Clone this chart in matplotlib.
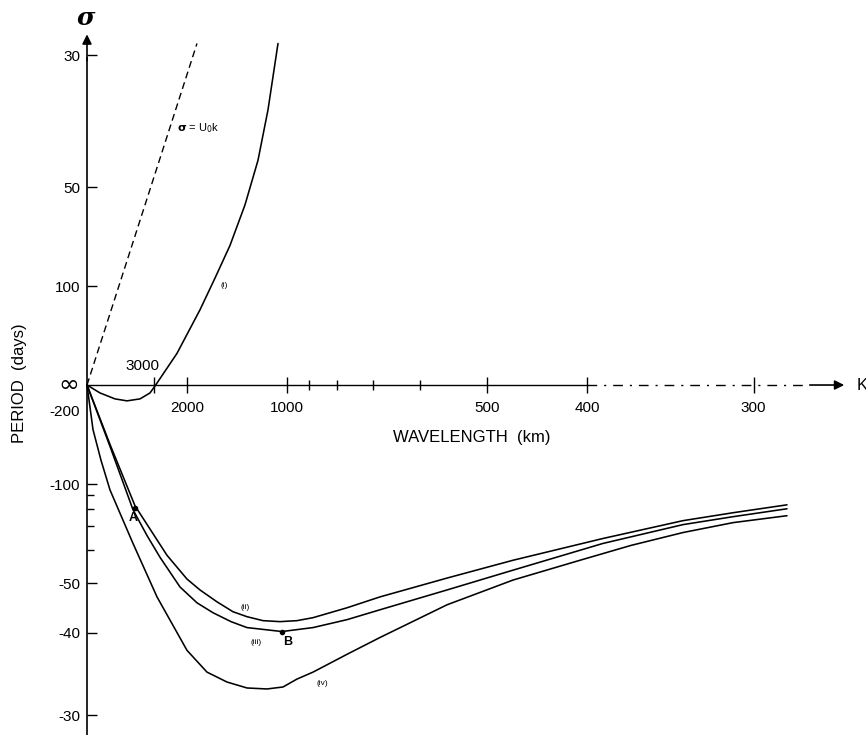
import matplotlib.pyplot as plt
from matplotlib.ticker import FixedLocator, FixedFormatter

plt.rcParams['font.family'] = ['Liberation Sans', 'DejaVu Sans']

# wavenumber k in units of 1/(1000 km), frequency sigma in units of 1/(100 days)
k_dash = [0.0, 0.55]
s_dash = [0.0, 3.45]

k_c1 = [0.0, 0.065, 0.14, 0.20, 0.265, 0.315, 0.34, 0.45, 0.565, 0.64, 0.715, 0.79, 0.855, 0.905, 0.955]
s_c1 = [0.0, -0.08, -0.14, -0.16, -0.14, -0.08, -0.01, 0.32, 0.76, 1.08, 1.41, 1.82, 2.27, 2.78, 3.45]

k_c2 = [0.0, 0.115, 0.24, 0.40, 0.50, 0.565, 0.65, 0.73, 0.80, 0.88, 0.965, 1.05, 1.13, 1.30,
        1.465, 1.80, 2.13, 2.58, 2.98, 3.23, 3.50]
s_c2 = [0.0, -0.60, -1.22, -1.72, -1.96, -2.07, -2.19, -2.29, -2.34, -2.38, -2.39, -2.38, -2.35, -2.25,
        -2.14, -1.95, -1.77, -1.55, -1.37, -1.29, -1.21]

k_c3 = [0.0, 0.115, 0.23, 0.30, 0.365, 0.465, 0.55, 0.63, 0.72, 0.80, 0.975, 1.13, 1.30,
        1.465, 1.80, 2.13, 2.58, 2.98, 3.23, 3.50]
s_c3 = [0.0, -0.62, -1.26, -1.52, -1.74, -2.04, -2.20, -2.30, -2.39, -2.45, -2.49, -2.45, -2.37,
        -2.27, -2.07, -1.87, -1.60, -1.41, -1.33, -1.25]

k_c4 = [0.0, 0.03, 0.07, 0.115, 0.23, 0.35, 0.50, 0.60, 0.70, 0.80, 0.90, 0.98, 1.05, 1.13, 1.30,
        1.465, 1.80, 2.13, 2.465, 2.72, 2.98, 3.23, 3.50]
s_c4 = [0.0, -0.45, -0.76, -1.06, -1.60, -2.14, -2.68, -2.90, -3.00, -3.06, -3.07, -3.05, -2.97, -2.90, -2.72,
        -2.55, -2.22, -1.97, -1.77, -1.62, -1.49, -1.39, -1.32]

# axis ticks: wavelength (km) and period (days)
wave_major = [3000, 2000, 1000, 500, 400, 300]
wave_labels = ['', '2000', '1000', '500', '400', '300']
wave_minor = [900, 800, 700, 600]
period_major = [30, 50, 100, -100, -50, -40, -30]
period_minor = [-90, -80, -70, -60]

point_A = (0.24, -1.24)
point_B = (0.975, -2.49)

fig = plt.figure(figsize=(8.66, 7.35), dpi=100)
ax = fig.add_axes([0, 0, 1, 1])
ax.set_xlim(-0.435, 3.895)
ax.set_ylim(-3.535, 3.889)

for side in ['top', 'right']:
    ax.spines[side].set_visible(False)
ax.spines['left'].set_position(('data', 0))
ax.spines['bottom'].set_position(('data', 0))
ax.spines['left'].set_bounds(-3.535, 3.3)
ax.spines['bottom'].set_bounds(0, 2.5)
ax.spines['left'].set_linewidth(1.2)
ax.spines['bottom'].set_linewidth(1.0)

ax.xaxis.set_major_locator(FixedLocator([1000 / w for w in wave_major]))
ax.xaxis.set_major_formatter(FixedFormatter(wave_labels))
ax.xaxis.set_minor_locator(FixedLocator([1000 / w for w in wave_minor]))
ax.yaxis.set_major_locator(FixedLocator([100 / p for p in period_major]))
ax.yaxis.set_major_formatter(FixedFormatter([str(p) for p in period_major]))
ax.yaxis.set_minor_locator(FixedLocator([100 / p for p in period_minor]))

ax.tick_params(axis='x', which='major', direction='inout', length=11, width=1.0,
               pad=6, labelsize=11)
ax.tick_params(axis='x', which='minor', direction='inout', length=7, width=1.0)
ax.tick_params(axis='y', which='major', direction='in', length=7, width=1.0,
               pad=5, labelsize=11)
ax.tick_params(axis='y', which='minor', direction='in', length=5, width=1.0)

# axis arrows and dash-dot continuation of the K axis
ax.annotate('', xy=(0, 3.57), xytext=(0, 3.25),
            arrowprops=dict(arrowstyle='-|>', color='black', lw=1.2, mutation_scale=14))
ax.plot([2.5, 3.6], [0, 0], color='black', lw=1.0, linestyle=(0, (7, 5, 1.5, 5)))
ax.annotate('', xy=(3.8, 0), xytext=(3.6, 0),
            arrowprops=dict(arrowstyle='-|>', color='black', lw=1.2, mutation_scale=14))

# curves
ax.plot(k_dash, s_dash, color='black', lw=1.0, linestyle=(0, (5, 3)))
for kk, ss in [(k_c1, s_c1), (k_c2, s_c2), (k_c3, s_c3), (k_c4, s_c4)]:
    ax.plot(kk, ss, color='black', lw=1.15, solid_capstyle='round', solid_joinstyle='round')
ax.plot(*point_A, 'o', color='black', ms=3)
ax.plot(*point_B, 'o', color='black', ms=3)

# annotations
ax.text(-0.005, 3.71, 'σ', fontsize=18, fontweight='bold', style='italic',
        family='DejaVu Serif', ha='center', va='center')
ax.text(3.875, 0, 'K', fontsize=12, ha='center', va='center')
ax.text(0.45, 2.60, r'$\mathbf{\sigma}$ = U$_0$k', fontsize=8, ha='left', va='center')
ax.text(-0.09, 0.0, '∞', fontsize=18, ha='center', va='center', family='DejaVu Sans')
ax.text(-0.035, -0.27, '-200', fontsize=11, ha='right', va='center')
ax.text(0.275, 0.19, '3000', fontsize=11, ha='center', va='center')
ax.text(1.53, -0.525, 'WAVELENGTH  (km)', fontsize=12, ha='left', va='center')
ax.text(-0.335, 0.02, 'PERIOD  (days)', fontsize=12, rotation=90, ha='center', va='center')

ax.text(0.685, 1.01, '(i)', fontsize=6, ha='center', va='center')
ax.text(0.79, -2.25, '(ii)', fontsize=6, ha='center', va='center')
ax.text(0.845, -2.60, '(iii)', fontsize=6, ha='center', va='center')
ax.text(1.175, -3.01, '(iv)', fontsize=6, ha='center', va='center')
ax.text(0.23, -1.34, 'A', fontsize=9, fontweight='bold', ha='center', va='center')
ax.text(1.005, -2.60, 'B', fontsize=9, fontweight='bold', ha='center', va='center')

fig.savefig('out.png', dpi=100, facecolor='white')
